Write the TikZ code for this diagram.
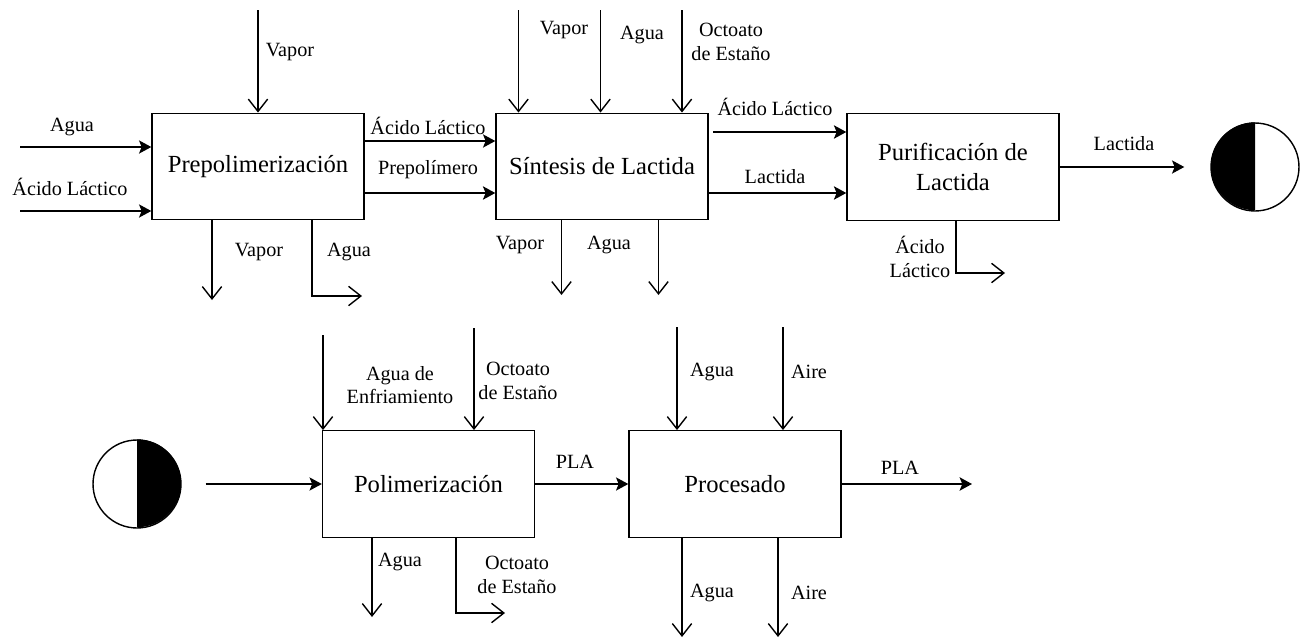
\documentclass[tikz,border=0pt]{standalone}
\usepackage{fontspec}
\setmainfont{Liberation Serif}
\usetikzlibrary{arrows.meta}

\tikzset{
    proc/.style={draw,line width=0.8pt,minimum width=4.24cm,minimum height=2.13cm,
        inner sep=0pt,align=center,font=\fontsize{14}{17}\selectfont},
    lbl/.style={inner sep=0pt,align=center,font=\fontsize{11.5}{13.5}\selectfont},
    feed/.style={line width=0.8pt,-{Stealth[length=7pt,width=7.5pt,inset=1.5pt]}},
    bulk/.style={feed,line width=1.5pt},
    stream/.style={line width=0.8pt,-{Straight Barb[length=7pt,width=11pt]}},
    link/.style={circle,draw,line width=0.8pt,minimum size=1.76cm,inner sep=0pt}
}

\begin{document}
\begin{tikzpicture}[x=0.02cm,y=-0.02cm]
    \useasboundingbox (0,0) rectangle (1303,639);

    \node[proc] (prep) at (258,166.5) {Prepolimerización};
    \node[proc] (sint) at (602,166.5) {Síntesis de Lactida};
    \node[proc] (purif) at (953,167) {Purificación de\\Lactida};
    \node[proc] (poli) at (428.5,484) {Polimerización};
    \node[proc] (procs) at (735,484) {Procesado};

    \node[link] (lac1) at (1255,167) {};
    \fill (lac1.north) arc[start angle=90,end angle=270,radius=0.88cm] -- cycle;
    \node[link] (lac2) at (137,484) {};
    \fill (lac2.north) arc[start angle=90,end angle=-90,radius=0.88cm] -- cycle;

    \coordinate (inAgua) at (20,147);
    \coordinate (inAcido) at (20,211);
    \draw[feed] (inAgua) -- (inAgua -| prep.west);
    \draw[feed] (inAcido) -- (inAcido -| prep.west);
    \coordinate (inVapor) at (258,10);
    \draw[stream] (inVapor) -- (prep.north);
    \coordinate (outVapor) at (212,300);
    \draw[stream] (outVapor |- prep.south) -- (outVapor);
    \coordinate (outAgua) at (362,296);
    \draw[stream] (312,0 |- prep.south) -- (312,296) -- (outAgua);
    \draw[feed] (prep.east |- 0,141) -- (sint.west |- 0,141);
    \draw[bulk] (prep.east |- 0,193) -- (sint.west |- 0,193);

    \node[lbl] (tAgua) at (72,127) {Agua};
    \node[lbl] (tAcido) at (70,187) {Ácido Láctico};
    \node[lbl] (tVapor) at (290,52) {Vapor};
    \node[lbl] (tAcidoP) at (428,126) {Ácido Láctico};
    \node[lbl] (tPrepol) at (428,170) {Prepolímero};
    \node[lbl] (tVaporP) at (259,252) {Vapor};
    \node[lbl] (tAguaP) at (349,252) {Agua};

    \foreach \x/\n in {518.5/sA,600.5/sB,682/sC}{
        \coordinate (\n) at (\x,10);
        \draw[stream] (\n) -- (\n |- sint.north);
    }
    \foreach \x/\n in {561.5/sD,658.5/sE}{
        \coordinate (\n) at (\x,295);
        \draw[stream] (\n |- sint.south) -- (\n);
    }
    \coordinate (sAcido) at (713,132);
    \draw[bulk] (sAcido) -- (sAcido -| purif.west);
    \draw[bulk] (sint.east |- 0,193) -- (purif.west |- 0,193);

    \node[lbl] (tVaporS) at (564,30) {Vapor};
    \node[lbl] (tAguaS) at (642,35) {Agua};
    \node[lbl] (tOctS) at (731,42) {Octoato\\de Estaño};
    \node[lbl] (tVaporS2) at (520,245) {Vapor};
    \node[lbl] (tAguaS2) at (609,245) {Agua};
    \node[lbl] (tAcidoS) at (775,107) {Ácido Láctico};
    \node[lbl] (tLactS) at (775,177) {Lactida};

    \coordinate (outAcido) at (1005,273);
    \draw[stream] (956,0 |- purif.south) -- (956,273) -- (outAcido);
    \draw[feed,shorten >=0.52cm] (purif) -- (lac1);
    \node[lbl] (tAcidoU) at (920,257) {Ácido\\Láctico};
    \node[lbl] (tLactU) at (1124,144) {Lactida};

    \draw[feed,shorten <=0.48cm] (lac2) -- (poli);
    \coordinate (inEnfr) at (323,335);
    \coordinate (inOct) at (474,328);
    \draw[stream] (inEnfr) -- (inEnfr |- poli.north);
    \draw[stream] (inOct) -- (inOct |- poli.north);
    \coordinate (outAguaL) at (372,617);
    \draw[stream] (outAguaL |- poli.south) -- (outAguaL);
    \coordinate (outOct) at (505,613);
    \draw[stream] (456,0 |- poli.south) -- (456,613) -- (outOct);
    \draw[feed] (poli) -- (procs);

    \node[lbl] (tEnfr) at (400,385) {Agua de\\Enfriamiento};
    \node[lbl] (tOct) at (518,381) {Octoato\\de Estaño};
    \node[lbl] (tAguaL) at (400,562) {Agua};
    \node[lbl] (tOctL) at (517,575) {Octoato\\de Estaño};
    \node[lbl] (tPLA) at (575,462) {PLA};

    \foreach \x/\n in {677/pA,783/pB}{
        \coordinate (\n) at (\x,327);
        \draw[stream] (\n) -- (\n |- procs.north);
    }
    \foreach \x/\n in {682/pC,778/pD}{
        \coordinate (\n) at (\x,637);
        \draw[stream] (\n |- procs.south) -- (\n);
    }
    \coordinate (outPLA) at (972,484);
    \draw[bulk] (procs.east) -- (outPLA);

    \node[lbl] (tAguaR) at (712,372) {Agua};
    \node[lbl] (tAire) at (809,372) {Aire};
    \node[lbl] (tAguaR2) at (712,593) {Agua};
    \node[lbl] (tAire2) at (809,593) {Aire};
    \node[lbl] (tPLA2) at (900,468) {PLA};
\end{tikzpicture}
\end{document}
